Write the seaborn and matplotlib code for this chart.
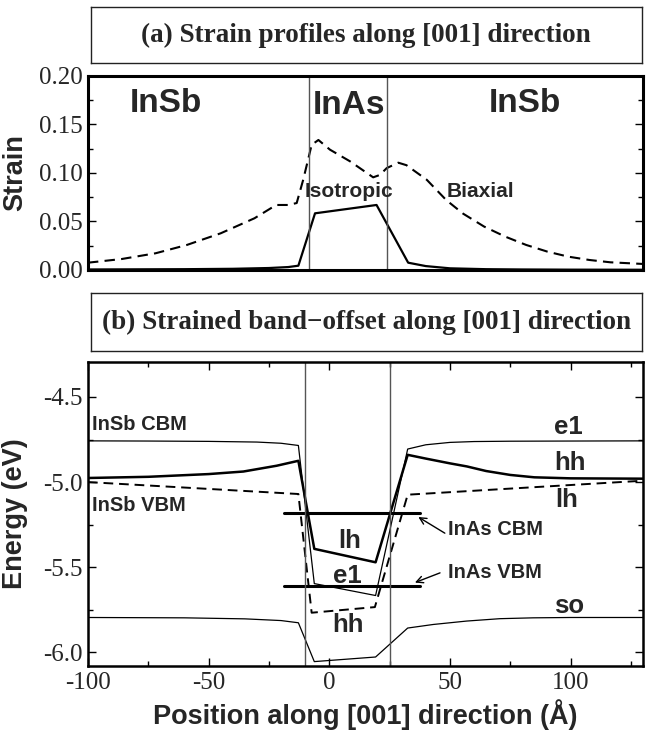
import numpy as np
import pandas as pd
import matplotlib
matplotlib.use("Agg")
import matplotlib.pyplot as plt
import seaborn as sns

# ---------------- data ----------------
# (a) strain profiles
biax_x = [-100, -86, -72, -59, -45, -31, -22, -17, -13.5, -10.8, -7.3, -4.5, 0.3, 8.6,
          18.2, 21, 23.8, 28.6, 32, 40.4, 48.5, 55.5, 64.2, 72.9, 81.6, 90.4, 99.1,
          107.8, 116.5, 130]
biax_y = [0.0075, 0.0113, 0.0172, 0.0258, 0.0378, 0.0533, 0.067, 0.067, 0.069, 0.093,
          0.129, 0.134, 0.124, 0.112, 0.0955, 0.098, 0.105, 0.1106, 0.108, 0.093, 0.072,
          0.058, 0.0447, 0.0344, 0.0258, 0.0189, 0.0137, 0.0103, 0.0079, 0.0062]
iso_x = [-100, -60, -40, -25, -17, -12.8, -5.9, 19.6, 32.7, 40, 50, 65, 80, 100, 130]
iso_y = [0.0005, 0.0008, 0.0012, 0.002, 0.003, 0.0044, 0.0584, 0.067, 0.0075, 0.004,
         0.0017, 0.0008, 0.0005, 0.0003, 0.0002]
well_top = [-8.4, 24.0]

# (b) strained band offsets
e1_x = [-100, -75, -50, -30, -20, -12.8, -6.2, 19.2, 32.5, 40, 50, 60, 75, 100, 130]
e1_E = [-4.758, -4.759, -4.761, -4.765, -4.772, -4.785, -5.596, -5.666, -4.806, -4.781,
        -4.767, -4.762, -4.760, -4.759, -4.758]
hh_x = [-100, -75, -50, -35.6, -21.8, -12.8, -6.2, 19.2, 32.5, 40, 50, 57, 65, 75, 85,
        100, 130]
hh_E = [-4.976, -4.969, -4.953, -4.938, -4.904, -4.875, -5.392, -5.471, -4.840, -4.862,
        -4.890, -4.908, -4.935, -4.958, -4.972, -4.978, -4.980]
lh_x = [-100, -12.8, -7.3, 18.9, 32.5, 130]
lh_E = [-5.000, -5.070, -5.767, -5.734, -5.074, -4.992]
so_x = [-100, -60, -35, -20, -12.8, -6.2, 19.2, 32.5, 43.1, 56.9, 70.7, 84.5, 100, 130]
so_E = [-5.795, -5.797, -5.803, -5.813, -5.826, -6.054, -6.027, -5.857, -5.836, -5.816,
        -5.802, -5.797, -5.795, -5.795]
inas_x = [-18.8, 37.6]
inas_cbm = -5.184
inas_vbm = -5.613
well_bot = [-10.2, 25.3]

# ---------------- style ----------------
sns.set_theme(style="ticks")
plt.rcParams["font.family"] = ["Liberation Sans", "DejaVu Sans"]
plt.rcParams["axes.unicode_minus"] = False

SERIF = ["Liberation Serif", "DejaVu Serif"]
SANS = ["Liberation Sans", "DejaVu Sans"]

fig = plt.figure(figsize=(6.57, 7.34), dpi=100)

def title_box(rect, text):
    a = fig.add_axes(rect)
    a.set_xticks([]); a.set_yticks([])
    for s in a.spines.values():
        s.set_linewidth(1.0); s.set_color("#222222")
    a.text(0.5, 0.5, text, ha="center", va="center", fontsize=19.5,
           fontweight="bold", family=SERIF, transform=a.transAxes)
    return a

def style_axes(ax, lw=1.8):
    for s in ax.spines.values():
        s.set_linewidth(lw); s.set_color("black")
    ax.tick_params(which="both", direction="in", color="black", width=1.0,
                   labelsize=18, top=True, right=True)
    ax.tick_params(which="major", length=6)
    ax.tick_params(which="minor", length=3.5)
    for lab in ax.get_xticklabels() + ax.get_yticklabels():
        lab.set_family(SERIF)

title_box([0.138, 0.9142, 0.8387, 0.0759], "(a) Strain profiles along [001] direction")
title_box([0.138, 0.5218, 0.8387, 0.079], "(b) Strained band\u2212offset along [001] direction")

# ---------------- (a) ----------------
ax1 = fig.add_axes([0.1339, 0.6322, 0.8447, 0.2643])
dash = (0, (5, 3))
sns.lineplot(x=biax_x, y=biax_y, ax=ax1, color="black", lw=1.5, linestyle=dash,
             estimator=None, sort=False)
sns.lineplot(x=iso_x, y=iso_y, ax=ax1, color="black", lw=1.6, estimator=None, sort=False)
for xv in well_top:
    ax1.axvline(xv, color="#555555", lw=1.0)
ax1.set_xlim(-100, 130)
ax1.set_ylim(0, 0.2)
ax1.set_yticks([0, 0.05, 0.10, 0.15, 0.20])
ax1.set_yticklabels(["0.00", "0.05", "0.10", "0.15", "0.20"])
ax1.set_yticks([0.025, 0.075, 0.125, 0.175], minor=True)
ax1.set_xticks([])
style_axes(ax1, lw=2.2)
ax1.tick_params(axis="x", which="both", top=False, bottom=False)
ax1.set_ylabel("Strain", fontsize=19.5, fontweight="bold", family=SANS)
ax1.yaxis.set_label_coords(-0.108, 0.5)
ax1.text(-67.7, 0.172, "InSb", ha="center", va="center", fontsize=24, fontweight="bold")
ax1.text(8.2, 0.170, "InAs", ha="center", va="center", fontsize=24, fontweight="bold")
ax1.text(81, 0.172, "InSb", ha="center", va="center", fontsize=24, fontweight="bold")
ax1.text(8.2, 0.0807, "Isotropic", ha="center", va="center", fontsize=15, fontweight="bold")
ax1.text(62.5, 0.0807, "Biaxial", ha="center", va="center", fontsize=15, fontweight="bold")

# ---------------- (b) ----------------
ax2 = fig.add_axes([0.1339, 0.0926, 0.8447, 0.4142])
sns.lineplot(x=e1_x, y=e1_E, ax=ax2, color="black", lw=0.9, estimator=None, sort=False)
sns.lineplot(x=hh_x, y=hh_E, ax=ax2, color="black", lw=1.8, estimator=None, sort=False)
sns.lineplot(x=lh_x, y=lh_E, ax=ax2, color="black", lw=1.4, linestyle=dash,
             estimator=None, sort=False)
sns.lineplot(x=so_x, y=so_E, ax=ax2, color="black", lw=0.9, estimator=None, sort=False)
sns.lineplot(x=inas_x, y=[inas_cbm] * 2, ax=ax2, color="black", lw=2.2,
             estimator=None, sort=False)
sns.lineplot(x=inas_x, y=[inas_vbm] * 2, ax=ax2, color="black", lw=2.2,
             estimator=None, sort=False)
for xv in well_bot:
    ax2.axvline(xv, color="#555555", lw=1.0)
ax2.set_xlim(-100, 130)
ax2.set_ylim(-6.08, -4.295)
ax2.set_xticks([-100, -50, 0, 50, 100])
ax2.set_xticks([-75, -25, 25, 75, 125], minor=True)
ax2.set_yticks([-6.0, -5.5, -5.0, -4.5])
ax2.set_yticklabels(["-6.0", "-5.5", "-5.0", "-4.5"])
ax2.set_yticks([-5.75, -5.25, -4.75], minor=True)
style_axes(ax2, lw=1.8)
ax2.tick_params(axis="x", which="major", pad=4)
ax2.set_xlabel("Position along [001] direction (\u00c5)", fontsize=19.5,
               fontweight="bold", family=SANS, labelpad=4)
ax2.set_ylabel("Energy (eV)", fontsize=19.5, fontweight="bold", family=SANS)
ax2.yaxis.set_label_coords(-0.108, 0.5)

lab = dict(fontsize=14.5, fontweight="bold", va="center")
ax2.text(-98.5, -4.664, "InSb CBM", ha="left", **lab)
ax2.text(-98.5, -5.139, "InSb VBM", ha="left", **lab)
ax2.text(49.3, -5.279, "InAs CBM", ha="left", **lab)
ax2.text(49.3, -5.533, "InAs VBM", ha="left", **lab)
big = dict(fontsize=18.5, fontweight="bold", ha="center", va="center")
ax2.text(8.3, -5.347, "lh", **big)
ax2.text(7.5, -5.553, "e1", **big)
ax2.text(7.9, -5.842, "hh", **big)
ax2.text(99.2, -4.674, "e1", **big)
ax2.text(99.6, -4.888, "hh", **big)
ax2.text(98.6, -5.103, "lh", **big)
ax2.text(99.6, -5.729, "so", **big)
arr = dict(arrowstyle="->", lw=1.0, color="black", shrinkA=0, shrinkB=0)
ax2.annotate("", xy=(36.9, -5.205), xytext=(47.9, -5.30), arrowprops=arr)
ax2.annotate("", xy=(35.5, -5.59), xytext=(45.9, -5.533), arrowprops=arr)

fig.savefig("out.png", dpi=100)
